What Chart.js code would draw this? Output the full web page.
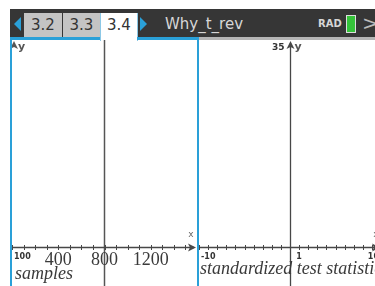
<!DOCTYPE html>
<html lang="en">
<head>
<meta charset="UTF-8">
<title>Why_t_rev</title>
<script src="https://cdn.jsdelivr.net/npm/chart.js"></script>
<style>
    body {
        margin: 0;
        width: 375px;
        height: 286px;
        overflow: hidden;
        background: #fff;
        position: relative;
        font-family: "DejaVu Sans", sans-serif;
    }
    .abs { position: absolute; }
    #bar { left: 10px; top: 9px; width: 380px; height: 28px; background: #363636; }
    .tab {
        top: 13px; height: 24px; background: #c4c4c4; color: #333;
        font-size: 15px; line-height: 25px; text-align: center;
    }
    #tab34 { background: #fff; height: 28px; border-left: 1px solid #8cc8e6; border-right: 1px solid #8cc8e6; }
    .tri { width: 0; height: 0; border-top: 7px solid transparent; border-bottom: 7px solid transparent; }
    #title { left: 165px; top: 13px; color: #d6d6d6; font-size: 15px; line-height: 22px; }
    #rad { left: 318px; top: 18px; color: #d6d6d6; font-size: 10px; font-weight: bold; }
    #batt { left: 346px; top: 15px; width: 8px; height: 16px; border: 1px solid #ddd; background: #35c33a; }
    #chev { left: 362px; top: 12px; color: #bbb; font-size: 20px; line-height: 22px; }
    canvas { position: absolute; }
</style>
</head>
<body>
<div id="bar" class="abs"></div>
<div class="abs tri" style="left:14px; top:17px; border-right:7px solid #2aa0d8;"></div>
<div class="abs tab" style="left:24px; width:38px;">3.2</div>
<div class="abs tab" style="left:63px; width:37px;">3.3</div>
<div class="abs tab" id="tab34" style="left:100px; width:36px;">3.4</div>
<div class="abs tri" style="left:140px; top:17px; border-left:7px solid #2aa0d8;"></div>
<div class="abs" id="title">Why_t_rev</div>
<div class="abs" id="rad">RAD</div>
<div class="abs" id="batt"></div>
<div class="abs" id="chev">&gt;</div>
<!-- strips under tabs -->
<div class="abs" style="left:10px; top:37px; width:90px; height:3px; background:#2aa0d8;"></div>
<div class="abs" style="left:137px; top:37px; width:60px; height:3px; background:#2aa0d8;"></div>
<div class="abs" style="left:199px; top:37px; width:180px; height:3px; background:#b5b5b5;"></div>
<div class="abs" style="left:10px; top:37px; width:2px; height:249px; background:#2aa0d8;"></div>
<div class="abs" style="left:197px; top:37px; width:2px; height:249px; background:#2aa0d8;"></div>

<canvas id="left" width="185" height="246" style="left:12px; top:40px;"></canvas>
<canvas id="right" width="182" height="246" style="left:199px; top:40px;"></canvas>

<script>
// left graph: samples
const samplesRange = [0, 1600];
const samplesStep = 100;
const samplesTickValues = [400, 800, 1200];
const samplesTickLabels = ['400', '800', '1200'];
const samplesEndLabel = '100';
const markerX = [800, 800];
const markerY = [-7, 36];

// right graph: standardized test statistic
const statRange = [-10, 10];
const statStep = 1;
const statTickValues = [1];
const statTickLabels = ['1'];
const statEndLabels = ['-10', '10'];
const yMaxLabel = '35';

// shared window
const yRange = [-6.63, 35.17];

const INK = '#474747';

function arrowHead(ctx, x, y, dir) {
    ctx.beginPath();
    if (dir === 'right') {
        ctx.moveTo(x, y); ctx.lineTo(x - 8, y - 4); ctx.lineTo(x - 6, y); ctx.lineTo(x - 8, y + 4);
    } else {
        ctx.moveTo(x, y); ctx.lineTo(x - 4, y + 8); ctx.lineTo(x, y + 6); ctx.lineTo(x + 4, y + 8);
    }
    ctx.closePath();
    ctx.fill();
}

const axesPlugin = {
    id: 'nspireAxes',
    afterDraw(chart, args, o) {
        const ctx = chart.ctx;
        const xs = chart.scales.x, ys = chart.scales.y;
        const { left, right, top, bottom } = chart.chartArea;
        const y0 = Math.round(ys.getPixelForValue(0)) + 0.5;
        ctx.save();
        ctx.strokeStyle = INK;
        ctx.fillStyle = INK;
        ctx.lineWidth = 1.3;
        // x axis
        ctx.beginPath();
        ctx.moveTo(left, y0);
        ctx.lineTo(right - 3, y0);
        ctx.stroke();
        arrowHead(ctx, right - 1, y0, 'right');
        // tick marks
        ctx.lineWidth = 1;
        for (let v = xs.min; v <= xs.max + 1e-9; v += o.step) {
            const px = Math.round(xs.getPixelForValue(v)) + 0.5;
            if (px > right - 6) continue;
            ctx.beginPath();
            ctx.moveTo(px, y0 - 2.5);
            ctx.lineTo(px, y0 + 2.5);
            ctx.stroke();
        }
        // y axis
        if (o.yAxisAtZero) {
            const x0 = Math.round(xs.getPixelForValue(0)) + 0.5;
            ctx.lineWidth = 1.3;
            ctx.beginPath();
            ctx.moveTo(x0, bottom);
            ctx.lineTo(x0, top + 3);
            ctx.stroke();
            arrowHead(ctx, x0, top + 1, 'up');
            ctx.font = 'bold 9px "DejaVu Sans"';
            ctx.textAlign = 'right';
            ctx.textBaseline = 'middle';
            ctx.fillStyle = '#333';
            ctx.fillText(yMaxLabel, x0 - 6, top + 8);
            ctx.textAlign = 'left';
            ctx.font = 'bold 11px "DejaVu Sans"';
            ctx.fillStyle = '#555';
            ctx.fillText('y', x0 + 4, top + 7);
        } else {
            ctx.fillStyle = '#555';
            arrowHead(ctx, left + 2, top + 1, 'up');
            ctx.font = 'bold 11px "DejaVu Sans"';
            ctx.textAlign = 'left';
            ctx.textBaseline = 'middle';
            ctx.fillText('y', left + 6, top + 7);
        }
        // "x" near arrow
        ctx.font = '9px "DejaVu Sans"';
        ctx.fillStyle = '#666';
        ctx.textAlign = 'center';
        ctx.textBaseline = 'middle';
        ctx.fillText('x', right - o.xLabelInset, y0 - 13);
        // end labels (small bold)
        ctx.font = 'bold 8px "DejaVu Sans"';
        ctx.fillStyle = '#333';
        ctx.textBaseline = 'top';
        ctx.textAlign = 'left';
        ctx.fillText(o.endLabels[0], left + 2, y0 + 5);
        if (o.endLabels[1]) {
            ctx.textAlign = 'right';
            ctx.fillText(o.endLabels[1], right - 2, y0 + 5);
        }
        // tick labels
        ctx.font = o.tickFont;
        ctx.fillStyle = o.tickColor;
        ctx.textAlign = o.tickAlign;
        o.tickValues.forEach((v, i) => {
            ctx.fillText(o.tickLabels[i], xs.getPixelForValue(v) + o.tickShift, y0 + o.tickGap);
        });
        // axis title
        ctx.font = 'italic 18px "Liberation Serif"';
        ctx.fillStyle = '#3a3a3a';
        ctx.textAlign = 'left';
        ctx.textBaseline = 'alphabetic';
        ctx.fillText(o.title, left + o.titleX, o.titleY);
        ctx.restore();
    }
};

function baseOptions(xRange, plugOpts) {
    return {
        responsive: false,
        animation: false,
        devicePixelRatio: 1,
        layout: { padding: 0 },
        plugins: { legend: { display: false }, tooltip: { enabled: false }, nspireAxes: plugOpts },
        scales: {
            x: { type: 'linear', display: false, min: xRange[0], max: xRange[1] },
            y: { type: 'linear', display: false, min: yRange[0], max: yRange[1] }
        }
    };
}

new Chart(document.getElementById('left'), {
    type: 'line',
    data: {
        datasets: [{
            data: markerX.map((x, i) => ({ x: x, y: markerY[i] })),
            borderColor: '#555',
            borderWidth: 1.5,
            pointRadius: 0
        }]
    },
    options: baseOptions(samplesRange, {
        step: samplesStep,
        yAxisAtZero: false,
        endLabels: [samplesEndLabel],
        tickValues: samplesTickValues,
        tickLabels: samplesTickLabels,
        tickFont: '18px "Liberation Serif"',
        tickColor: '#3a3a3a',
        tickAlign: 'center',
        tickShift: 0,
        tickGap: 4,
        xLabelInset: 6,
        title: 'samples',
        titleX: 3,
        titleY: 239
    }),
    plugins: [axesPlugin]
});

new Chart(document.getElementById('right'), {
    type: 'line',
    data: { datasets: [] },
    options: baseOptions(statRange, {
        step: statStep,
        yAxisAtZero: true,
        endLabels: statEndLabels,
        tickValues: statTickValues,
        tickLabels: statTickLabels,
        tickFont: 'bold 8px "DejaVu Sans"',
        tickColor: '#333',
        tickAlign: 'center',
        tickShift: 0,
        tickGap: 5,
        xLabelInset: 5,
        title: 'standardized test statistic',
        titleX: 1,
        titleY: 234
    }),
    plugins: [axesPlugin]
});
</script>
</body>
</html>
